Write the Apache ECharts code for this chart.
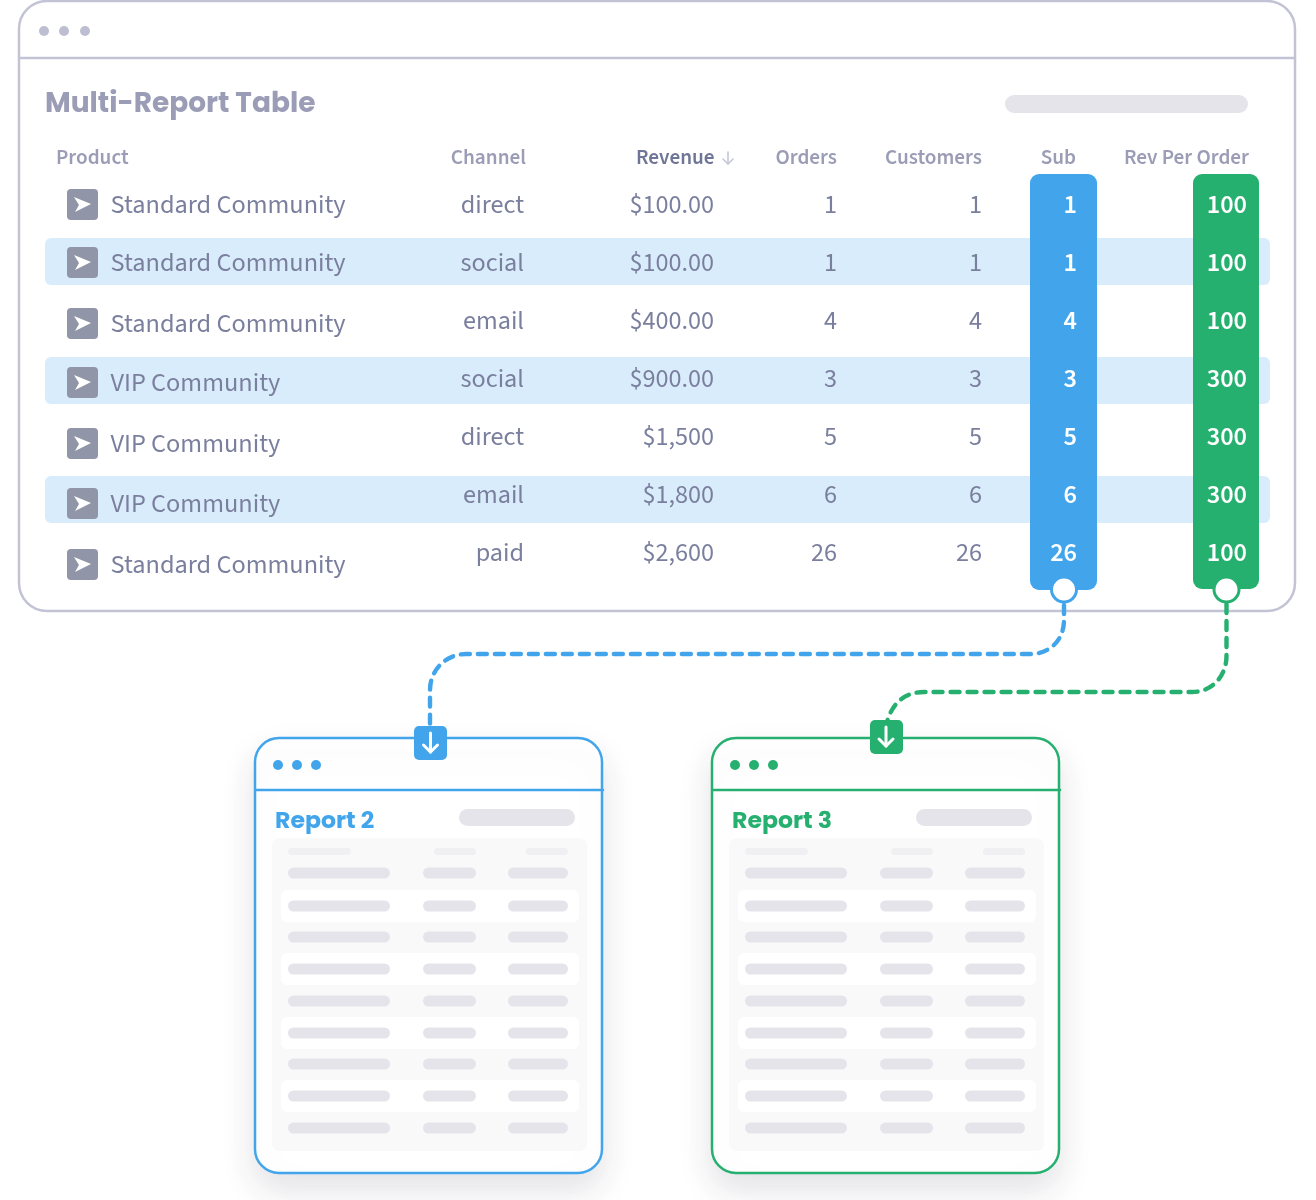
<!DOCTYPE html>
<html>
<head>
<meta charset="utf-8">
<style>html,body{margin:0;padding:0;background:#fff}#chart{width:1316px;height:1200px}</style>
<script src="https://cdn.jsdelivr.net/npm/echarts@6/dist/echarts.min.js"></script>
</head>
<body>
<div id="chart"></div>
<script>
// table values
var columns = ['Product', 'Channel', 'Revenue', 'Orders', 'Customers', 'Sub', 'Rev Per Order'];
var products = ['Standard Community', 'Standard Community', 'Standard Community', 'VIP Community', 'VIP Community', 'VIP Community', 'Standard Community'];
var channels = ['direct', 'social', 'email', 'social', 'direct', 'email', 'paid'];
var revenue = ['$100.00', '$100.00', '$400.00', '$900.00', '$1,500', '$1,800', '$2,600'];
var orders = [1, 1, 4, 3, 5, 6, 26];
var customers = [1, 1, 4, 3, 5, 6, 26];
var sub = [1, 1, 4, 3, 5, 6, 26];
var revPerOrder = [100, 100, 100, 300, 300, 300, 100];

// layout, in page pixels
var rowY = [205, 263, 321, 379, 437, 495, 553];
var productY = [205, 263, 324, 383, 444, 504, 565];
var bandRows = [[238, 285], [357, 404], [476, 523]];
var colRight = { channel: 524, revenue: 714, orders: 837, customers: 982, sub: 1077, rev: 1247 };
var headerX = [[56, 'left'], [526, 'right'], [636, 'left'], [837, 'right'], [982, 'right'], [1076, 'right'], [1249, 'right']];
var TEXT_DY = 2.5; // the font sits a little high on its middle line

var BLUE = '#42a5ec', GREEN = '#26b06f', BORDER = '#c3c3d6', PILL = '#e5e4ea';
var SANS = '"Source Sans Pro","Source Sans 3","Noto Sans CJK SC","Noto Sans",sans-serif';
var HEAD = 'Poppins,Inter,"Noto Sans",sans-serif';

function txt(text, x, y, size, color, align, family, weight) {
  return { type: 'text', style: { text: text, x: x, y: y, fontSize: size, fill: color, align: align || 'left', verticalAlign: 'middle', fontFamily: family || SANS, fontWeight: weight || 400 } };
}
function rrect(x, y, w, h, r, fill, extra) {
  var style = { fill: fill };
  for (var k in extra) style[k] = extra[k];
  return { type: 'rect', shape: { x: x, y: y, width: w, height: h, r: r }, style: style };
}
function dot(x, y, r, fill) {
  return { type: 'circle', shape: { cx: x, cy: y, r: r }, style: { fill: fill } };
}
function line(x1, y1, x2, y2, color, w) {
  return { type: 'line', shape: { x1: x1, y1: y1, x2: x2, y2: y2 }, style: { stroke: color, lineWidth: w, fill: null, lineCap: 'round' } };
}
function arrow(cx, top, bottom, color, w, wing) {
  return [
    line(cx, top, cx, bottom, color, w),
    { type: 'polyline', shape: { points: [[cx - wing, bottom - wing], [cx, bottom], [cx + wing, bottom - wing]] }, style: { stroke: color, lineWidth: w, fill: null, lineCap: 'round', lineJoin: 'round' } }
  ];
}

// small report window with the placeholder table
var skeletonY = [873, 906, 937, 969, 1001, 1033, 1064, 1096, 1128];
function reportCard(dx, color, title) {
  var out = [
    rrect(255 + dx, 738, 347, 435, 24, '#fff', { stroke: color, lineWidth: 2.5, shadowBlur: 34, shadowOffsetY: 16, shadowColor: 'rgba(40,40,70,0.13)' }),
    line(256 + dx, 790, 603 + dx, 790, color, 2.5),
    dot(278 + dx, 765, 5, color), dot(297 + dx, 765, 5, color), dot(316 + dx, 765, 5, color),
    txt(title, 275 + dx, 822, 23.6, color, 'left', HEAD, 700),
    rrect(459 + dx, 809, 116, 17, 8.5, PILL),
    rrect(272 + dx, 838, 315, 313, 8, '#f9f9fa'),
    rrect(288 + dx, 848, 63, 7, 3.5, '#f0f0f2'),
    rrect(434 + dx, 848, 42, 7, 3.5, '#f0f0f2'),
    rrect(526 + dx, 848, 42, 7, 3.5, '#f0f0f2')
  ];
  skeletonY.forEach(function (y, i) {
    if (i % 2 === 1) out.push(rrect(281 + dx, y - 16, 298, 32, 6, '#fff'));
    out.push(rrect(288 + dx, y - 5.5, 102, 11, 5.5, PILL));
    out.push(rrect(423 + dx, y - 5.5, 53, 11, 5.5, PILL));
    out.push(rrect(508 + dx, y - 5.5, 60, 11, 5.5, PILL));
  });
  return out;
}

var chrome = [
  rrect(19, 1, 1276, 610, 28, '#fff', { stroke: BORDER, lineWidth: 2.5 }),
  line(20, 58, 1295, 58, BORDER, 2.5),
  dot(44, 31, 5, '#bebed2'), dot(64, 31, 5, '#bebed2'), dot(85, 31, 5, '#bebed2'),
  txt('Multi-Report Table', 45, 105, 28, '#9a9db5', 'left', HEAD, 700),
  rrect(1005, 95, 243, 18, 9, PILL)
];
chrome = chrome.concat(arrow(728, 152, 164, '#c5c7d6', 1.6, 5));
chrome = chrome.concat(reportCard(0, BLUE, 'Report 2'), reportCard(457, GREEN, 'Report 3'));

// dashed links from the metric columns down to the report windows
var links = [
  { path: 'M1064 605 L1064 620 C1064 640 1050 654 1030 654 L466 654 C446 654 430 670 430 690 L430 727', box: [430, 605, 634, 122], color: BLUE, badge: [414, 726], arrowX: 430.5 },
  { path: 'M1226.5 604 L1226.5 656 C1226.5 676 1212 692 1192 692 L924 692 C904 692 892 704 887 722', box: [887, 604, 339.5, 118], color: GREEN, badge: [870, 720], arrowX: 886 }
];

// series data built from the arrays above
var cells = [];
channels.forEach(function (v, i) { cells.push([colRight.channel, rowY[i], v, '#7a7f9e', 'right']); });
revenue.forEach(function (v, i) { cells.push([colRight.revenue, rowY[i], v, '#7a7f9e', 'right']); });
orders.forEach(function (v, i) { cells.push([colRight.orders, rowY[i], v, '#7a7f9e', 'right']); });
customers.forEach(function (v, i) { cells.push([colRight.customers, rowY[i], v, '#7a7f9e', 'right']); });
sub.forEach(function (v, i) { cells.push([colRight.sub, rowY[i], v, '#fff', 'right']); });
revPerOrder.forEach(function (v, i) { cells.push([colRight.rev, rowY[i], v, '#fff', 'right']); });

var chart = echarts.init(document.getElementById('chart'));
chart.setOption({
  animation: false,
  backgroundColor: '#fff',
  grid: { left: 0, right: 0, top: 0, bottom: 0 },
  xAxis: { type: 'value', min: 0, max: 1316, show: false },
  yAxis: { type: 'value', min: 0, max: 1200, inverse: true, show: false },
  graphic: { elements: chrome },
  series: [
    {
      name: 'rowBands', type: 'custom', coordinateSystem: 'cartesian2d', z: 2, silent: true,
      data: bandRows,
      encode: { x: [], y: [0, 1] },
      renderItem: function (params, api) {
        var a = api.coord([45, api.value(0)]), b = api.coord([1270, api.value(1)]);
        return rrect(a[0], a[1], b[0] - a[0], b[1] - a[1], 6, '#d9ecfb');
      }
    },
    {
      name: 'links', type: 'custom', coordinateSystem: 'cartesian2d', z: 3, silent: true,
      data: links.map(function (l) { return [l.box[0], l.box[1]]; }),
      encode: { x: 0, y: 1 },
      renderItem: function (params, api) {
        var l = links[params.dataIndex], b = l.box;
        var kids = [
          { type: 'path', shape: { pathData: l.path, x: b[0], y: b[1], width: b[2], height: b[3], layout: 'cover' }, style: { stroke: l.color, lineWidth: 4.4, fill: null, lineDash: [9, 8], lineCap: 'round' } },
          rrect(l.badge[0], l.badge[1], 33, 34, 5, l.color)
        ];
        return { type: 'group', children: kids.concat(arrow(l.arrowX, l.badge[1] + 7, l.badge[1] + 26, '#fff', 3, 7)) };
      }
    },
    {
      name: 'metricColumns', type: 'custom', coordinateSystem: 'cartesian2d', z: 3, silent: true,
      data: [[1030, 1097, 174, 590], [1193, 1259, 174, 589]],
      encode: { x: [0, 1], y: [2, 3] },
      renderItem: function (params, api) {
        var a = api.coord([api.value(0), api.value(2)]), b = api.coord([api.value(1), api.value(3)]);
        var c = params.dataIndex === 0 ? BLUE : GREEN;
        var cx = params.dataIndex === 0 ? 1064 : 1226.5;
        return { type: 'group', children: [
          rrect(a[0], a[1], b[0] - a[0], b[1] - a[1], 9, c),
          { type: 'circle', shape: { cx: cx, cy: 589.5, r: 12.5 }, style: { fill: '#fff', stroke: c, lineWidth: 3 } }
        ] };
      }
    },
    {
      name: 'headers', type: 'custom', coordinateSystem: 'cartesian2d', z: 4, silent: true,
      data: headerX.map(function (h) { return [h[0], 157]; }),
      encode: { x: 0, y: 1 },
      renderItem: function (params, api) {
        var i = params.dataIndex, p = api.coord([api.value(0), api.value(1)]);
        return txt(columns[i], p[0], p[1] + TEXT_DY, 21.2, i === 2 ? '#6f7596' : '#9a9db5', headerX[i][1], SANS, 600);
      }
    },
    {
      name: 'products', type: 'custom', coordinateSystem: 'cartesian2d', z: 4, silent: true,
      data: productY.map(function (y) { return [110.5, y]; }),
      encode: { x: 0, y: 1 },
      renderItem: function (params, api) {
        var p = api.coord([api.value(0), api.value(1)]), y = p[1];
        return { type: 'group', children: [
          rrect(67, y - 16, 31, 31, 4, '#9095a8'),
          { type: 'polygon', shape: { points: [[74, y - 8], [91, y - 1], [75, y + 7], [79, y]] }, style: { fill: '#fff' } },
          txt(products[params.dataIndex], p[0], y + TEXT_DY, 26.3, '#7a7f9e')
        ] };
      }
    },
    {
      name: 'cells', type: 'custom', coordinateSystem: 'cartesian2d', z: 5, silent: true,
      data: cells.map(function (c) { return [c[0], c[1]]; }),
      encode: { x: 0, y: 1 },
      renderItem: function (params, api) {
        var c = cells[params.dataIndex], p = api.coord([api.value(0), api.value(1)]);
        return txt(String(c[2]), p[0], p[1] + TEXT_DY, 26.2, c[3], c[4], SANS, c[3] === '#fff' ? 600 : 400);
      }
    }
  ]
});
</script>
</body>
</html>
